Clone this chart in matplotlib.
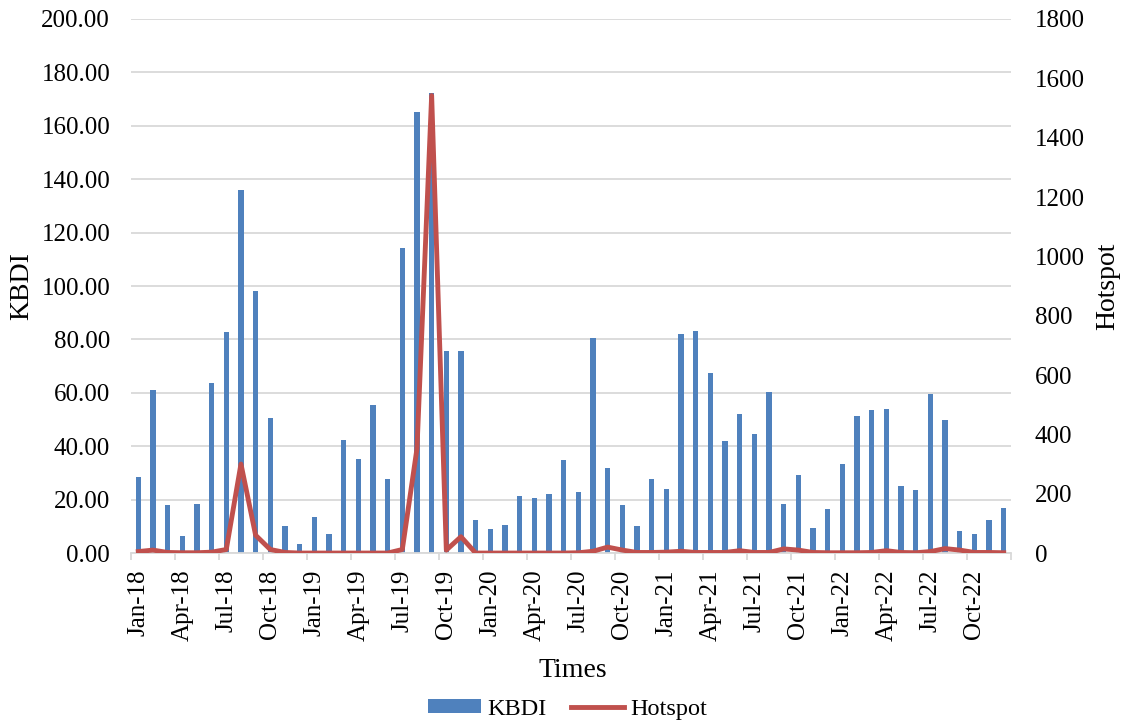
import numpy as np
import matplotlib.pyplot as plt
from matplotlib.patches import Patch
from matplotlib.lines import Line2D

# data (monthly, Jan-2018 .. Dec-2022)
months = ['Jan', 'Feb', 'Mar', 'Apr', 'May', 'Jun',
          'Jul', 'Aug', 'Sep', 'Oct', 'Nov', 'Dec']
years = ['18', '19', '20', '21', '22']
labels = [m + '-' + y for y in years for m in months]

kbdi = [28.5, 61.2, 17.9, 6.4, 18.4, 63.8, 82.6, 135.8, 98.3, 50.4, 10.0, 3.4,
        13.5, 7.2, 42.4, 35.4, 55.5, 27.7, 114.1, 165.1, 172.2, 75.5, 75.7, 12.5,
        9.0, 10.5, 21.5, 20.6, 22.1, 34.9, 23.0, 80.7, 31.9, 18.0, 10.0, 27.7,
        23.9, 82.2, 83.2, 67.3, 42.1, 52.1, 44.4, 60.4, 18.3, 29.4, 9.5, 16.4,
        33.3, 51.4, 53.7, 53.9, 25.2, 23.7, 59.7, 50.0, 8.3, 7.2, 12.5, 16.9]

hotspot = [5, 10, 2, 1, 1, 3, 12, 300, 60, 12, 2, 0,
           0, 0, 0, 0, 0, 0, 12, 352, 1542, 10, 55, 0,
           0, 0, 0, 0, 0, 0, 1, 6, 20, 10, 2, 2,
           3, 6, 2, 2, 2, 8, 2, 2, 14, 10, 2, 1,
           1, 1, 2, 8, 2, 1, 5, 15, 10, 2, 2, 1]

bar_col = '#4F81BD'
line_col = '#C0504D'
grid_col = '#D9D9D9'

plt.rcParams['font.family'] = ['Liberation Serif', 'DejaVu Serif']
plt.rcParams['font.size'] = 18

fig = plt.figure(figsize=(11.24, 7.22), dpi=100)
ax = fig.add_axes([0.1165, 0.234, 0.783, 0.7397])
x = np.arange(len(kbdi))

ax.bar(x, kbdi, width=0.36, color=bar_col, zorder=2)
ax.set_ylim(0, 200)
ax.set_xlim(-0.5, len(kbdi) - 0.5)
ax.set_yticks(np.arange(0, 201, 20))
ax.set_yticklabels(['%.2f' % v for v in np.arange(0, 201, 20)])
ax.yaxis.grid(True, color=grid_col, linewidth=1.3, zorder=0)
ax.set_axisbelow(True)

# labels every 3 months, tick marks at the category boundaries
ax.set_xticks(x[::3])
ax.set_xticklabels(labels[::3], rotation=90)
ax.set_xticks(np.arange(-0.5, len(kbdi), 3), minor=True)
ax.tick_params(axis='x', which='major', length=0, pad=12)
ax.tick_params(axis='x', which='minor', length=5, color=grid_col, width=1.3)
ax.tick_params(axis='y', length=0, pad=15)

for s in ['top', 'left', 'right']:
    ax.spines[s].set_visible(False)
ax.spines['bottom'].set_color(grid_col)
ax.spines['bottom'].set_linewidth(1.3)

ax2 = ax.twinx()
ax2.plot(x, hotspot, color=line_col, linewidth=3.5, zorder=3)
ax2.set_ylim(0, 1800)
ax2.set_yticks(np.arange(0, 1801, 200))
ax2.tick_params(axis='y', length=0, pad=17)
for s in ['top', 'left', 'right', 'bottom']:
    ax2.spines[s].set_visible(False)

ax.set_ylabel('KBDI', fontsize=20)
ax.yaxis.set_label_coords(-0.110, 0.5)
ax2.set_ylabel('Hotspot', fontsize=20)
ax2.yaxis.set_label_coords(1.096, 0.5)
ax.set_xlabel('Times', fontsize=20)
ax.xaxis.set_label_coords(0.502, -0.196)

handles = [Patch(facecolor=bar_col, edgecolor='none'),
           Line2D([0], [0], color=line_col, linewidth=3.5)]
fig.legend(handles, ['KBDI', 'Hotspot'], loc='center', ncol=2,
           bbox_to_anchor=(0.505, 0.018), frameon=False, fontsize=17.5,
           handlelength=2.2, handleheight=0.5, handletextpad=0.25,
           columnspacing=1.0)

fig.savefig('out.png', dpi=100)
